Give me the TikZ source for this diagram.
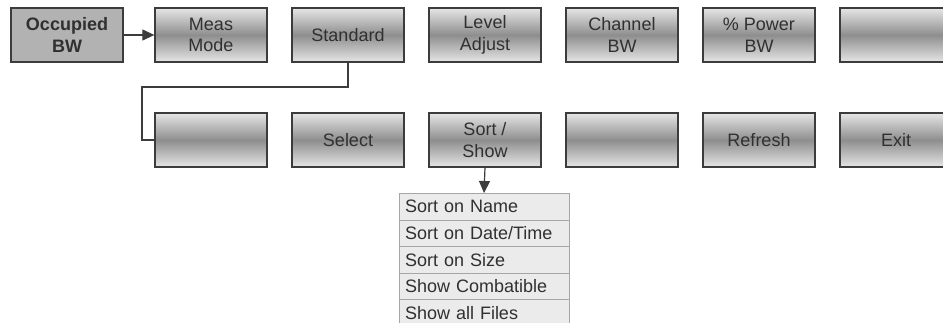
\documentclass[tikz,border=0pt]{standalone}
\usepackage{fontspec}
\setmainfont{Liberation Sans}
\usetikzlibrary{arrows.meta}

\definecolor{keyedge}{HTML}{3C3C3C}
\definecolor{keylight}{HTML}{E6E6E6}
\definecolor{keydark}{HTML}{8E8E8E}
\definecolor{hotfill}{HTML}{B2B2B2}
\definecolor{menufill}{HTML}{EBEBEB}
\definecolor{menuedge}{HTML}{A6A6A6}
\definecolor{keytext}{HTML}{303030}

\begin{document}
\begin{tikzpicture}[x=1pt,y=-1pt,
  key/.style={rectangle, draw=keyedge, line width=1.3pt, minimum width=112pt,
    minimum height=54pt, inner sep=0pt, align=center, text=keytext,
    font=\fontsize{18}{21.6}\selectfont},
  softkey/.style={key, top color=keylight, bottom color=keylight, middle color=keydark},
  hotkey/.style={key, fill=hotfill, font=\fontsize{18}{21.6}\selectfont\bfseries},
  menuitem/.style={rectangle, draw=menuedge, line width=1pt, fill=menufill,
    minimum width=170pt, minimum height=26.5pt, text width=158pt, align=left,
    inner sep=0pt, anchor=north, text=keytext, font=\fontsize{18}{21.6}\selectfont},
  link/.style={draw=keyedge, line width=1.2pt},
  arr/.style={link, -{Triangle[length=12pt,width=11pt]}}]
  \useasboundingbox (0,0) rectangle (943,322);
  \clip (0,0) rectangle (943,322);

  % top row
  \node[hotkey] (occ) at (67,35) {Occupied\\BW};
  \foreach \t [count=\i] in {{Meas\\Mode},Standard,{Level\\Adjust},{Channel\\BW},{\% Power\\BW},{}} {
    \node[softkey] (top\i) at (74+137*\i,35) {\t};
  }

  % second row
  \foreach \t [count=\i] in {{},Select,{Sort /\\Show},{},Refresh,Exit} {
    \node[softkey] (bot\i) at (74+137*\i,140) {\t};
  }

  % sort menu
  \foreach \t [count=\i] in {Sort on Name,Sort on Date/Time,Sort on Size,Show Combatible,Show all Files} {
    \node[menuitem] (m\i) at (484,193+26.5*\i-26.5) {\t};
  }

  \draw[arr] (occ) -- (top1);
  \coordinate (bend) at (142,87);
  \draw[link] (top2.south) |- (bend) |- (bot1.west);
  \draw[arr] (bot3.south) -- (m1.north);
\end{tikzpicture}
\end{document}
